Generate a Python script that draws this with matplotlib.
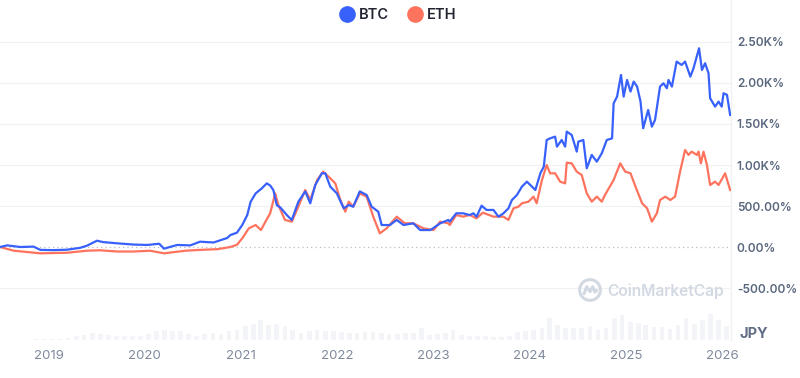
import matplotlib
matplotlib.use('Agg')
import matplotlib.pyplot as plt
import matplotlib.dates as mdates
import pandas as pd
from matplotlib.lines import Line2D
from matplotlib.patches import Circle
from matplotlib.ticker import FixedLocator, FuncFormatter

# percent change since start (JPY)
btc_dates = ['2018-07-01', '2018-07-28', '2018-09-16', '2018-11-05', '2018-12-01', '2019-01-20',
             '2019-03-12', '2019-05-01', '2019-05-27', '2019-07-04', '2019-07-27', '2019-09-19',
             '2019-11-19', '2020-01-11', '2020-02-25', '2020-03-14', '2020-05-03', '2020-06-22',
             '2020-07-29', '2020-09-18', '2020-11-09', '2020-11-21', '2020-12-16', '2021-01-05',
             '2021-01-24', '2021-02-06', '2021-02-25', '2021-03-20', '2021-04-08', '2021-04-21',
             '2021-05-03', '2021-05-16', '2021-05-30', '2021-06-23', '2021-07-12', '2021-08-06',
             '2021-09-01', '2021-09-20', '2021-10-09', '2021-11-03', '2021-11-16', '2021-12-05',
             '2021-12-30', '2022-01-25', '2022-02-13', '2022-03-02', '2022-03-27', '2022-04-22',
             '2022-05-11', '2022-06-05', '2022-06-18', '2022-07-19', '2022-08-14', '2022-09-09',
             '2022-10-16', '2022-11-11', '2022-12-20', '2023-01-26', '2023-02-26', '2023-03-03',
             '2023-03-28', '2023-04-23', '2023-05-18', '2023-06-01', '2023-06-13', '2023-07-02',
             '2023-07-21', '2023-08-16', '2023-09-04', '2023-09-23', '2023-10-12', '2023-10-25',
             '2023-11-13', '2023-12-02', '2023-12-21', '2024-01-09', '2024-01-22', '2024-02-10',
             '2024-02-23', '2024-03-05', '2024-03-18', '2024-04-06', '2024-04-13', '2024-05-01',
             '2024-05-14', '2024-05-20', '2024-06-08', '2024-06-27', '2024-07-03', '2024-07-22',
             '2024-08-04', '2024-08-23', '2024-09-11', '2024-09-30', '2024-10-19', '2024-11-08',
             '2024-11-14', '2024-11-27', '2024-12-12', '2024-12-22', '2025-01-04', '2025-01-17',
             '2025-01-29', '2025-02-11', '2025-02-24', '2025-03-06', '2025-03-25', '2025-04-08',
             '2025-04-20', '2025-05-09', '2025-05-22', '2025-06-04', '2025-06-10', '2025-06-23',
             '2025-07-11', '2025-07-30', '2025-08-12', '2025-09-01', '2025-09-13', '2025-10-04',
             '2025-10-15', '2025-10-27', '2025-11-09', '2025-11-15', '2025-12-04', '2025-12-17',
             '2025-12-29', '2026-01-05', '2026-01-18', '2026-01-30']
btc_pct = [0, 20, 0, 5, -35, -38,
           -33, -10, 16, 77, 60, 45,
           30, 25, 40, -20, 25, 20,
           65, 55, 110, 146, 175, 268,
           390, 553, 654, 715, 776, 750,
           695, 512, 480, 390, 330, 553,
           678, 533, 756, 899, 899, 736,
           654, 472, 512, 492, 678, 634,
           492, 431, 268, 268, 330, 268,
           289, 207, 207, 289, 330, 309,
           411, 411, 390, 411, 370, 504,
           452, 452, 370, 411, 472, 573,
           634, 736, 797, 736, 695, 899,
           980, 1305, 1325, 1346, 1224, 1305,
           1224, 1407, 1366, 1163, 1285, 1305,
           960, 1123, 1041, 1143, 1305, 1325,
           1752, 1834, 2098, 1834, 2037, 1895,
           2017, 1956, 1773, 1448, 1671, 1468,
           1549, 1956, 1997, 1936, 2037, 1956,
           2261, 2220, 2261, 2078, 2180, 2423,
           2159, 2241, 2119, 1814, 1712, 1773,
           1712, 1875, 1855, 1610]

eth_dates = ['2018-07-01', '2018-08-22', '2018-12-01', '2019-03-12', '2019-05-27', '2019-07-15',
             '2019-09-19', '2019-11-19', '2020-01-21', '2020-03-14', '2020-06-04', '2020-07-29',
             '2020-10-04', '2020-11-21', '2020-12-16', '2021-01-05', '2021-01-30', '2021-02-25',
             '2021-03-17', '2021-04-03', '2021-04-21', '2021-05-10', '2021-05-22', '2021-06-16',
             '2021-07-12', '2021-08-03', '2021-09-01', '2021-09-20', '2021-10-16', '2021-11-08',
             '2021-12-05', '2021-12-24', '2022-01-12', '2022-01-31', '2022-02-13', '2022-03-02',
             '2022-03-27', '2022-04-22', '2022-05-17', '2022-06-11', '2022-07-07', '2022-08-14',
             '2022-09-14', '2022-10-16', '2022-11-23', '2023-01-01', '2023-01-26', '2023-02-26',
             '2023-03-03', '2023-03-28', '2023-04-23', '2023-05-18', '2023-06-13', '2023-07-07',
             '2023-08-16', '2023-09-23', '2023-10-12', '2023-10-31', '2023-11-19', '2023-12-02',
             '2023-12-27', '2024-01-15', '2024-01-27', '2024-02-16', '2024-03-05', '2024-03-18',
             '2024-04-06', '2024-04-25', '2024-05-14', '2024-05-20', '2024-06-08', '2024-06-27',
             '2024-07-16', '2024-08-04', '2024-08-23', '2024-09-11', '2024-09-30', '2024-10-12',
             '2024-11-14', '2024-12-09', '2024-12-28', '2025-01-17', '2025-02-05', '2025-03-02',
             '2025-03-21', '2025-04-08', '2025-04-27', '2025-05-09', '2025-05-29', '2025-06-17',
             '2025-07-05', '2025-07-24', '2025-08-12', '2025-08-25', '2025-09-06', '2025-09-26',
             '2025-10-02', '2025-10-11', '2025-10-21', '2025-11-03', '2025-11-15', '2025-12-04',
             '2025-12-17', '2026-01-11', '2026-01-30']
eth_pct = [0, -45, -77, -70, -45, -40,
           -55, -55, -45, -77, -45, -35,
           -26, 0, 27, 106, 228, 268,
           207, 309, 411, 654, 512, 330,
           309, 472, 695, 573, 817, 919,
           838, 776, 573, 431, 553, 492,
           654, 614, 370, 167, 228, 370,
           289, 289, 228, 207, 309, 289,
           268, 390, 370, 390, 350, 419,
           370, 370, 330, 472, 492, 533,
           553, 614, 533, 817, 1000, 899,
           899, 797, 776, 1029, 1020, 919,
           878, 654, 553, 614, 553, 634,
           817, 1020, 919, 899, 736, 533,
           472, 309, 411, 573, 614, 573,
           614, 919, 1183, 1123, 1163, 1123,
           1163, 1020, 1163, 1000, 756, 797,
           756, 899, 695]

# monthly volume (relative, unlabelled)
vol_months = pd.date_range('2018-07-01', '2026-01-01', freq='MS')
vol = [0.5, 0.5, 0.5, 0.5, 1, 1,
       1, 1.5, 2, 4, 5, 7, 6, 5, 4, 4, 4, 4,
       6, 9, 10, 9, 9, 6, 4, 6, 7, 6, 9, 10,
       14, 16, 20, 15, 16, 14, 10, 7, 9, 10, 9, 9,
       8, 7, 7, 8, 8, 7, 6, 6, 7, 7, 12, 5,
       6, 7, 10, 5, 4, 4, 4, 3, 3, 4, 8, 9,
       10, 12, 22, 15, 12, 12, 12, 14, 10, 12, 22, 25,
       18, 17, 15, 13, 13, 11, 15, 22, 16, 20, 26, 20,
       14]

ytick_vals = [-500, 0, 500, 1000, 1500, 2000, 2500]
year_ticks = ['2019', '2020', '2021', '2022', '2023', '2024', '2025', '2026']

BLUE = '#3861fb'
ORANGE = '#fe735e'
LABEL = '#58667e'
WATER = '#d3d9e3'

plt.rcParams['font.family'] = ['Inter', 'DejaVu Sans']

fig = plt.figure(figsize=(8, 3.78), dpi=100)
ax_pos = [0, 0.1005, 0.914, 0.8995]
xmin, xmax = pd.Timestamp('2018-07-01'), pd.Timestamp('2026-02-03')

# volume bars behind everything
vax = fig.add_axes(ax_pos)
vax.bar(vol_months + pd.Timedelta(days=15), vol, width=18, color='#f3f4f7', linewidth=0)
vax.set_xlim(xmin, xmax)
vax.set_ylim(0, 340)
vax.axis('off')

ax = fig.add_axes(ax_pos)
ax.patch.set_visible(False)
ax.plot(pd.to_datetime(eth_dates), eth_pct, color=ORANGE, lw=1.6, zorder=3)
ax.plot(pd.to_datetime(btc_dates), btc_pct, color=BLUE, lw=1.6, zorder=4)

ax.set_xlim(xmin, xmax)
ax.set_ylim(-1134, 3012)

for v in ytick_vals:
    if v == 0:
        ax.axhline(v, color='#b8bcc4', lw=0.9, ls=(0, (1, 2.5)), zorder=2)
    else:
        ax.axhline(v, color='#f0f1f3', lw=0.9, zorder=1)

ax.yaxis.tick_right()
ax.yaxis.set_major_locator(FixedLocator(ytick_vals))
ax.yaxis.set_major_formatter(FuncFormatter(
    lambda v, p: f'{v/1000:.2f}K%' if abs(v) >= 1000 else f'{v:.2f}%'))
ax.tick_params(axis='y', length=0, pad=4, labelsize=8.5, labelcolor=LABEL)
for t in ax.get_yticklabels():
    t.set_fontweight('semibold')

ax.set_xticks(pd.to_datetime([y + '-01-01' for y in year_ticks]))
ax.xaxis.set_major_formatter(mdates.DateFormatter('%Y'))
ax.tick_params(axis='x', length=0, pad=7, labelsize=9.5, labelcolor='#808a9d')

for side in ['top', 'left', 'bottom']:
    ax.spines[side].set_visible(False)
ax.spines['right'].set_color('#eff1f4')
ax.spines['right'].set_linewidth(1)

fig.text(740 / 800, 1 - 334 / 378, 'JPY', fontsize=10.5, fontweight='bold',
         color='#616e85', va='center', ha='left')

# watermark: logo ring with a wave, then the name
lax = fig.add_axes([577 / 800, 1 - 302 / 378, 26 / 800, 24 / 378])
lax.set_xlim(-1.1, 1.1)
lax.set_ylim(-1.1, 1.1)
lax.set_aspect('equal')
lax.axis('off')
lax.add_patch(Circle((0, 0), 0.95, fill=False, ec=WATER, lw=2.2))
lax.plot([-0.55, -0.3, 0.0, 0.25, 0.45, 0.6], [-0.35, 0.3, -0.15, 0.3, -0.2, -0.05],
         color=WATER, lw=2.2, solid_capstyle='round', solid_joinstyle='round')
fig.text(607 / 800, 1 - 291 / 378, 'CoinMarketCap', fontsize=11.2, fontweight='semibold',
         color=WATER, va='center', ha='left')

handles = [Line2D([], [], marker='o', ls='', markersize=11, color=BLUE, label='BTC'),
           Line2D([], [], marker='o', ls='', markersize=11, color=ORANGE, label='ETH')]
leg = fig.legend(handles=handles, loc='center', bbox_to_anchor=(0.497, 1 - 15 / 378), ncol=2,
                 frameon=False, fontsize=10.5, handletextpad=0.2, columnspacing=1.2,
                 handlelength=1.2)
for t in leg.get_texts():
    t.set_color('#222531')
    t.set_fontweight('semibold')

fig.savefig('out.png', dpi=100, facecolor='white')
